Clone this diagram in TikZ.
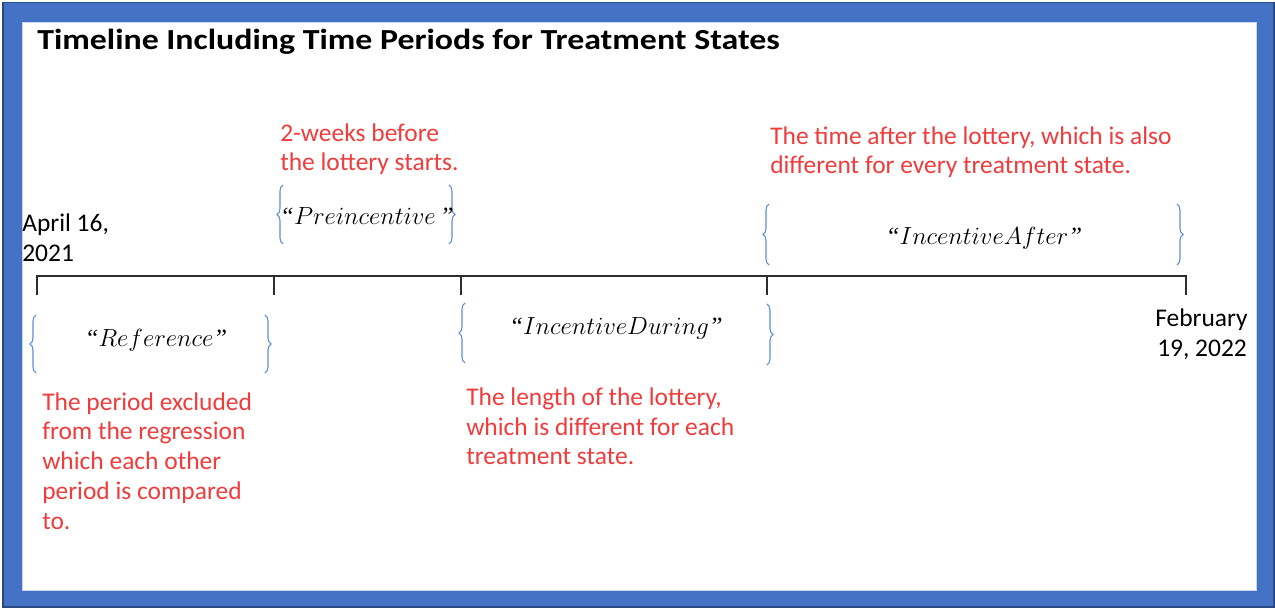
\RequirePackage{fix-cm}
\documentclass[tikz,border=0pt]{standalone}
\usepackage{fontspec}
\setmainfont{Carlito}
\newfontfamily\quotefont{Liberation Serif}
\usetikzlibrary{decorations.pathreplacing}
\definecolor{frameblue}{RGB}{68,114,196}
\definecolor{framedark}{RGB}{40,72,130}
\definecolor{notered}{RGB}{240,60,60}
\definecolor{braceblue}{RGB}{95,140,215}
\definecolor{lineblack}{RGB}{45,45,45}
\newcommand{\myopenq}{{\quotefont\itshape “}}
\newcommand{\mycloseq}{{\quotefont\itshape ”}}
\tikzset{
  rednote/.style={text=notered, align=left, inner sep=0pt, font=\fontsize{19.1}{22.3}\selectfont},
  blacknote/.style={text=black, align=left, inner sep=0pt, font=\fontsize{19.1}{23.2}\selectfont},
  mathlabel/.style={inner sep=0pt, font=\fontsize{18.6}{21}\selectfont},
  bracestyle/.style={draw=braceblue, line width=0.8pt, decorate, decoration={brace, amplitude=4.5pt}},
  timeline/.style={draw=lineblack, line width=1.1pt},
}
\begin{document}
\begin{tikzpicture}[x=0.75pt, y=-0.75pt]
\useasboundingbox (0,0) rectangle (1275,609);
% frame
\fill[framedark] (2,2) rectangle (1275,608);
\fill[frameblue, even odd rule] (4,3) rectangle (1273,606) (22,22) rectangle (1256,590);
\fill[white] (22,22) rectangle (1256,590);
\draw[white!70!frameblue, line width=0.6pt] (22,22) rectangle (1256,590);
% title
\node[anchor=base west, inner sep=0pt, font=\bfseries\fontsize{21.8}{26}\selectfont] (title) at (37,50) {\scalebox{1.165}[1]{Timeline Including Time Periods for Treatment States}};
% timeline
\coordinate (t0) at (37,276);
\coordinate (t1) at (274,276);
\coordinate (t2) at (461,276);
\coordinate (t3) at (767,276);
\coordinate (t4) at (1186,276);
\coordinate (b0) at (37,295);
\coordinate (b1) at (274,295);
\coordinate (b2) at (461,295);
\coordinate (b3) at (767,295);
\coordinate (b4) at (1186,295);
\draw[timeline] (b0) -- (t0) -- (t4) -- (b4);
\draw[timeline] (t1) -- (b1);
\draw[timeline] (t2) -- (b2);
\draw[timeline] (t3) -- (b3);
% dates
\node[blacknote, anchor=base west] (start) at (22,262) {April 16,\\2021};
\node[blacknote, anchor=base west] (end) at (1155,357) {February\\\hspace*{1.5pt}19, 2022};
% braces
\coordinate (pl1) at (283,244); \coordinate (pl2) at (283,185);
\coordinate (pr1) at (449,185); \coordinate (pr2) at (449,244);
\draw[bracestyle] (pl1) -- (pl2);
\draw[bracestyle] (pr1) -- (pr2);
\coordinate (rl1) at (36,373); \coordinate (rl2) at (36,315);
\coordinate (rr1) at (265,315); \coordinate (rr2) at (265,373);
\draw[bracestyle] (rl1) -- (rl2);
\draw[bracestyle] (rr1) -- (rr2);
\coordinate (dl1) at (465,363); \coordinate (dl2) at (465,303);
\coordinate (dr1) at (767,304); \coordinate (dr2) at (767,365);
\draw[bracestyle] (dl1) -- (dl2);
\draw[bracestyle] (dr1) -- (dr2);
\coordinate (al1) at (769,265); \coordinate (al2) at (769,204);
\coordinate (ar1) at (1177,204); \coordinate (ar2) at (1177,265);
\draw[bracestyle] (al1) -- (al2);
\draw[bracestyle] (ar1) -- (ar2);
% period labels
\node[mathlabel, anchor=base] (pre) at (367,225) {\myopenq$Preincentive$\,\mycloseq};
\node[mathlabel, anchor=base] (ref) at (156,347) {\myopenq$Reference$\mycloseq};
\node[mathlabel, anchor=base] (dur) at (616,335) {\myopenq$IncentiveDuring$\mycloseq};
\node[mathlabel, anchor=base] (aft) at (984,245) {\myopenq$IncentiveAfter$\mycloseq};
% notes
\node[rednote, anchor=base west] (prenote) at (280,171) {2-weeks before\\the lottery starts.};
\node[rednote, anchor=base west] (aftnote) at (770,174) {The time after the lottery, which is also\\different for every treatment state.};
\node[rednote, anchor=base west] (refnote) at (42,529) {The period excluded\\from the regression\\which each other\\period is compared\\to.};
\node[rednote, anchor=base west] (durnote) at (466,465) {The length of the lottery,\\which is different for each\\treatment state.};
\end{tikzpicture}
\end{document}
